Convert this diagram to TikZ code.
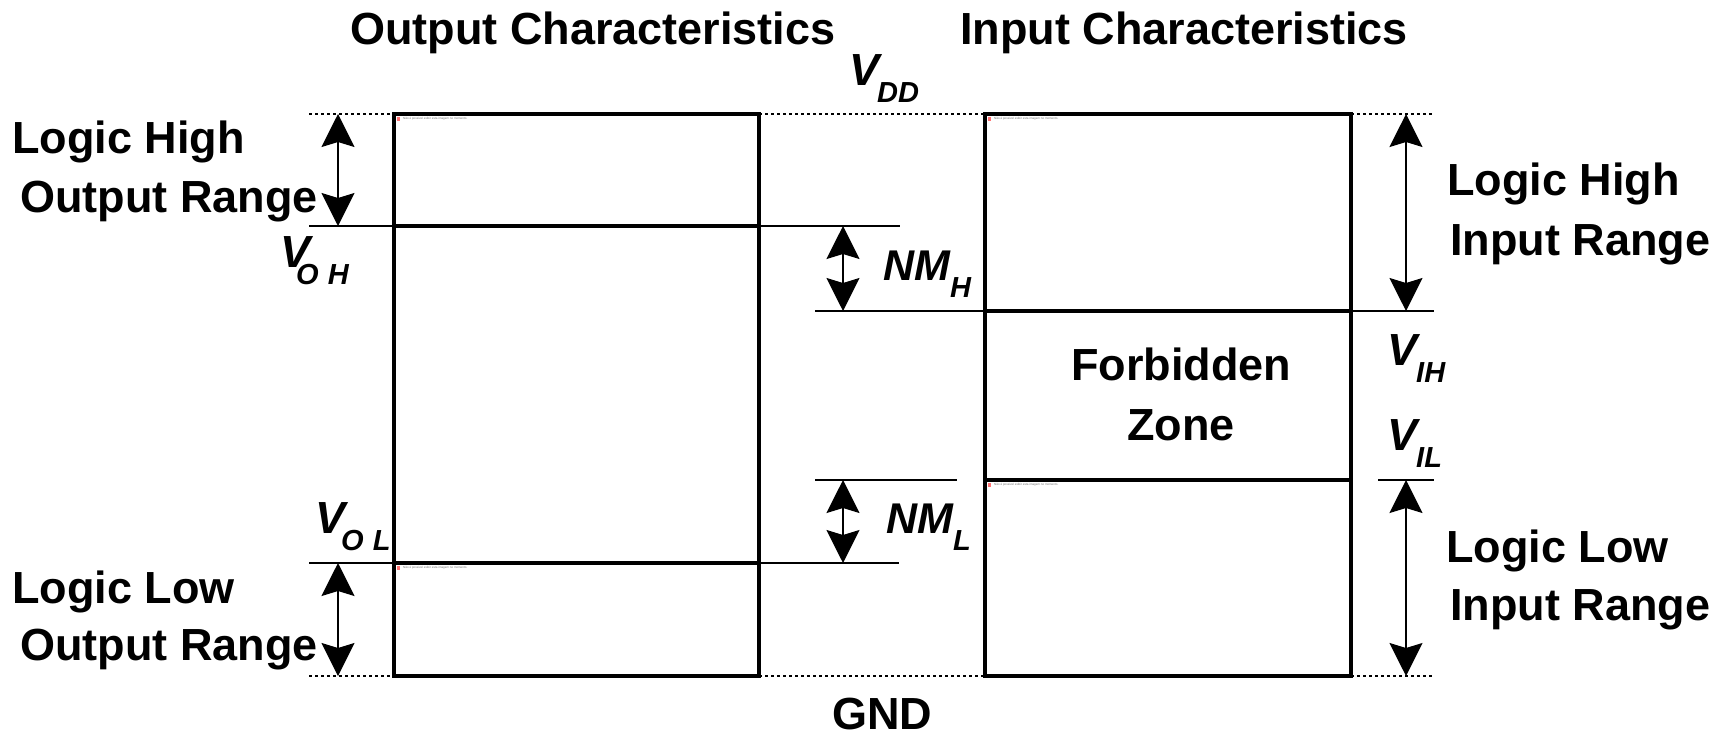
\documentclass[tikz,border=0pt]{standalone}
\usepackage{fontspec}
\setmainfont{Liberation Sans}
\usetikzlibrary{arrows.meta}

% lowered subscript: #1 = kern before it, #2 = text
\newcommand\lowsub[2]{\kern#1\raisebox{-17pt}{\fontsize{29}{32}\selectfont #2}}

\tikzset{
  txt/.style={font=\fontsize{45}{50}\selectfont\bfseries, inner sep=0pt, anchor=base west},
  ctxt/.style={font=\fontsize{45}{50}\selectfont\bfseries, inner sep=0pt, anchor=base},
  vmain/.style={font=\fontsize{45}{50}\selectfont\bfseries\itshape, inner sep=0pt, anchor=base west},
  nmain/.style={font=\fontsize{43}{48}\selectfont\bfseries\itshape, inner sep=0pt, anchor=base west},
  frame/.style={line width=4pt},
  level/.style={line width=1.6pt},
  rail/.style={line width=1.5pt, dash pattern=on 3pt off 3pt},
  span/.style={line width=1.5pt,
    {Stealth[length=33pt,width=33pt,inset=5pt]}-{Stealth[length=33pt,width=33pt,inset=5pt]}},
  note/.style={font=\fontsize{3}{3.5}\selectfont, text=black!55, inner sep=0pt, anchor=west},
  noteicon/.style={fill=red!55, draw=none}
}

\begin{document}
\begin{tikzpicture}[x=1pt, y=-1pt]
\useasboundingbox (0,0) rectangle (1729,737);

% ---- supply rails (dotted) ----
\coordinate (vddA) at (309,114);  \coordinate (vddB) at (394,114);
\coordinate (vddC) at (759,114);  \coordinate (vddD) at (985,114);
\coordinate (vddE) at (1351,114); \coordinate (vddF) at (1434,114);
\coordinate (gndA) at (309,676);  \coordinate (gndB) at (394,676);
\coordinate (gndC) at (759,676);  \coordinate (gndD) at (985,676);
\coordinate (gndE) at (1351,676); \coordinate (gndF) at (1434,676);
\draw[rail] (vddA) -- (vddB) (vddC) -- (vddD) (vddE) -- (vddF);
\draw[rail] (gndA) -- (gndB) (gndC) -- (gndD) (gndE) -- (gndF);

% ---- threshold levels ----
\coordinate (vohA) at (309,226); \coordinate (vohB) at (900,226);
\coordinate (volA) at (309,563); \coordinate (volB) at (899,563);
\coordinate (vihA) at (815,311); \coordinate (vihB) at (1434,311);
\coordinate (vilA) at (815,480); \coordinate (vilB) at (957,480);
\coordinate (vilC) at (1378,480); \coordinate (vilD) at (1434,480);
\draw[level] (vohA) -- (vohB);
\draw[level] (volA) -- (volB);
\draw[level] (vihA) -- (vihB);
\draw[level] (vilA) -- (vilB) (vilC) -- (vilD);

% ---- output and input boxes ----
\draw[frame, fill=white] (394,114) rectangle (759,676);
\draw[frame] (394,226) -- (759,226) (394,563) -- (759,563);
\draw[frame, fill=white] (985,114) rectangle (1351,676);
\draw[frame] (985,311) -- (1351,311) (985,480) -- (1351,480);

% ---- missing-image placeholders ----
\fill[noteicon] (397,117) rectangle (400,121);
\node[note] (ph1) at (403,119) {Não é possível exibir esta imagem no momento.};
\fill[noteicon] (397,566) rectangle (400,570);
\node[note] (ph2) at (403,568) {Não é possível exibir esta imagem no momento.};
\fill[noteicon] (988,117) rectangle (991,121);
\node[note] (ph3) at (994,119) {Não é possível exibir esta imagem no momento.};
\fill[noteicon] (988,483) rectangle (991,487);
\node[note] (ph4) at (994,485) {Não é possível exibir esta imagem no momento.};

% ---- range arrows ----
\coordinate (a1t) at (338,114); \coordinate (a1b) at (338,226);
\coordinate (a2t) at (338,563); \coordinate (a2b) at (338,676);
\coordinate (a3t) at (843,226); \coordinate (a3b) at (843,311);
\coordinate (a4t) at (843,480); \coordinate (a4b) at (843,563);
\coordinate (a5t) at (1406,114); \coordinate (a5b) at (1406,311);
\coordinate (a6t) at (1406,480); \coordinate (a6b) at (1406,676);
\draw[span] (a1t) -- (a1b);
\draw[span] (a2t) -- (a2b);
\draw[span] (a3t) -- (a3b);
\draw[span] (a4t) -- (a4b);
\draw[span] (a5t) -- (a5b);
\draw[span] (a6t) -- (a6b);

% ---- titles ----
\node[ctxt] (tout) at (593,44) {Output Characteristics};
\node[ctxt] (tin)  at (1184,44) {Input Characteristics};

% ---- voltage labels ----
\node[vmain] (vdd) at (849,85)  {V\lowsub{-2pt}{DD}};
\node[vmain] (voh) at (280,267) {V\lowsub{-14pt}{O\hspace{9pt}H}};
\node[vmain] (vol) at (315,533) {V\lowsub{-4pt}{O\hspace{9pt}L}};
\node[vmain] (vih) at (1387,365) {V\lowsub{-1pt}{IH}};
\node[vmain] (vil) at (1387,450) {V\lowsub{-1pt}{IL}};
\node[nmain] (nmh) at (883,280) {NM\lowsub{0pt}{H}};
\node[nmain] (nml) at (886,533) {NM\lowsub{0pt}{L}};
\node[ctxt] (gnd) at (882,729) {GND};

% ---- range descriptions ----
\node[txt] (lho1) at (12,153) {Logic High};
\node[txt] (lho2) at (20,212) {Output Range};
\node[txt] (llo1) at (12,603) {Logic Low};
\node[txt] (llo2) at (20,660) {Output Range};
\node[txt] (lhi1) at (1447,195) {Logic High};
\node[txt] (lhi2) at (1450,255) {Input Range};
\node[txt] (lli1) at (1446,562) {Logic Low};
\node[txt] (lli2) at (1450,620) {Input Range};
\node[ctxt] (fz1) at (1181,380) {Forbidden};
\node[ctxt] (fz2) at (1181,440) {Zone};
\end{tikzpicture}
\end{document}
